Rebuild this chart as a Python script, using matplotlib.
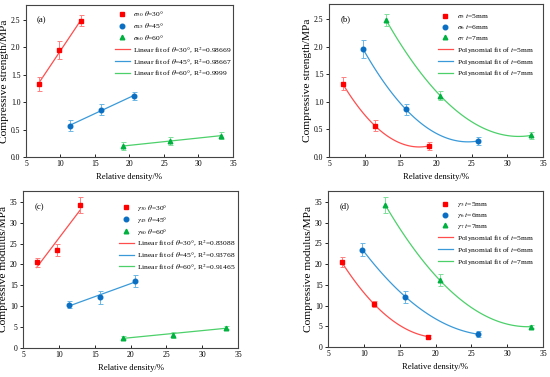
import numpy as np
import matplotlib
matplotlib.use("Agg")
import matplotlib.pyplot as plt
from matplotlib.lines import Line2D

plt.rcParams['font.family'] = ['Liberation Serif', 'DejaVu Serif']
plt.rcParams['mathtext.fontset'] = 'stix'

# Relative density (%) for each angle group (t = 5, 6, 7 mm)
rd_30 = [6.9, 9.8, 13.0]
rd_45 = [11.4, 15.8, 20.6]
rd_60 = [19.0, 25.9, 33.3]

# Compressive strength (MPa)
sig_30 = [1.33, 1.95, 2.48]
sig_45 = [0.57, 0.86, 1.11]
sig_60 = [0.20, 0.29, 0.39]
sig_err_30 = [0.12, 0.16, 0.10]
sig_err_45 = [0.10, 0.10, 0.08]
sig_err_60 = [0.08, 0.08, 0.07]

# Compressive modulus (MPa)
gam_30 = [20.5, 23.5, 34.2]
gam_45 = [10.4, 12.1, 16.1]
gam_60 = [2.5, 3.1, 4.9]
gam_err_30 = [1.1, 1.5, 1.9]
gam_err_45 = [0.8, 1.5, 1.4]
gam_err_60 = [0.3, 0.8, 0.4]

r2_sig = ['0.98669', '0.98667', '0.9999']
r2_gam = ['0.83088', '0.93768', '0.91465']

mk_colors = ['#ff0000', '#0a6fc2', '#00b140']
ln_colors = ['#ff4d4d', '#3a9ad9', '#4cd06a']
err_colors = ['#ff8080', '#6ab7e6', '#7fe09a']
markers = ['s', 'o', '^']

W, H = 550, 377
fig = plt.figure(figsize=(W / 100, H / 100), dpi=100)


def add_ax(l, r, t, b):
    return fig.add_axes([l / W, 1 - b / H, (r - l) / W, (b - t) / H])


def style(ax, ylim, yticks, ylabel, tag, tagy):
    ax.set_xlim(5, 35)
    ax.set_ylim(*ylim)
    ax.set_xticks([5, 10, 15, 20, 25, 30, 35])
    ax.set_yticks(yticks)
    ax.tick_params(axis='x', direction='in', length=2.5, width=0.6, labelsize=5.5, pad=2.5)
    ax.tick_params(axis='y', direction='out', length=2.5, width=0.6, labelsize=5.5, pad=1.5)
    for s in ax.spines.values():
        s.set_color('#444444')
        s.set_linewidth(0.8)
    ax.set_xlabel('Relative density/%', fontsize=6.2, labelpad=3)
    ax.set_ylabel(ylabel, fontsize=8.2, labelpad=1.5)
    ax.text(6.6, tagy, tag, fontsize=6.2, va='center', ha='left')


def draw_points(ax, xs, ys, es, i):
    ax.errorbar(xs, ys, yerr=es, fmt='none', ecolor=err_colors[i], elinewidth=0.7,
                capsize=1.8, capthick=0.7, zorder=2)
    ax.plot(xs, ys, linestyle='none', marker=markers[i], color=mk_colors[i],
            markersize=3.3, zorder=3)


def legend(ax, labels_m, labels_l, anchor):
    handles = []
    for i in range(3):
        handles.append(Line2D([], [], linestyle='none', marker=markers[i], color=mk_colors[i],
                              markersize=3.3))
    for i in range(3):
        handles.append(Line2D([], [], color=ln_colors[i], lw=0.9))
    ax.legend(handles, labels_m + labels_l, loc='upper right', bbox_to_anchor=anchor,
              frameon=False, fontsize=5.4, handlelength=2.0, handletextpad=0.5,
              labelspacing=0.25, borderaxespad=0.0, borderpad=0.0)


# ---------- (a) ----------
ax = add_ax(26, 233, 5, 157)
rds = [rd_30, rd_45, rd_60]
sigs = [sig_30, sig_45, sig_60]
sig_errs = [sig_err_30, sig_err_45, sig_err_60]
for i in range(3):
    p = np.polyfit(rds[i], sigs[i], 1)
    xx = np.linspace(rds[i][0], rds[i][-1], 50)
    ax.plot(xx, np.polyval(p, xx), color=ln_colors[i], lw=0.9, zorder=1)
    draw_points(ax, rds[i], sigs[i], sig_errs[i], i)
style(ax, (0, 2.77), [0, 0.5, 1.0, 1.5, 2.0, 2.5], 'Compressive strength/MPa', '(a)', 2.5)
legend(ax,
       [r'$\sigma_{30}$ $\theta$=30°', r'$\sigma_{45}$ $\theta$=45°', r'$\sigma_{60}$ $\theta$=60°'],
       [r'Linear fit of $\theta$=%s°, R$^2$=%s' % (a, r) for a, r in zip(['30', '45', '60'], r2_sig)],
       (0.995, 0.97))
ax.yaxis.set_major_formatter(matplotlib.ticker.FormatStrFormatter('%.1f'))

# ---------- (b) ----------
ax = add_ax(329, 543, 4, 157)
rd_t = [[rd_30[k], rd_45[k], rd_60[k]] for k in range(3)]
sig_t = [[sig_30[k], sig_45[k], sig_60[k]] for k in range(3)]
sig_err_t = [[sig_err_30[k], sig_err_45[k], sig_err_60[k]] for k in range(3)]
for i in range(3):
    p = np.polyfit(rd_t[i], sig_t[i], 2)
    xx = np.linspace(rd_t[i][0], rd_t[i][-1], 100)
    ax.plot(xx, np.polyval(p, xx), color=ln_colors[i], lw=0.9, zorder=1)
    draw_points(ax, rd_t[i], sig_t[i], sig_err_t[i], i)
style(ax, (0, 2.77), [0, 0.5, 1.0, 1.5, 2.0, 2.5], 'Compressive strength/MPa', '(b)', 2.5)
legend(ax,
       [r'$\sigma_5$ $t$=5mm', r'$\sigma_6$ $t$=6mm', r'$\sigma_7$ $t$=7mm'],
       [r'Polynomial fit of $t$=%smm' % s for s in ['5', '6', '7']],
       (0.955, 0.945))
ax.yaxis.set_major_formatter(matplotlib.ticker.FormatStrFormatter('%.1f'))

# ---------- (c) ----------
ax = add_ax(23, 238, 191, 348)
gams = [gam_30, gam_45, gam_60]
gam_errs = [gam_err_30, gam_err_45, gam_err_60]
for i in range(3):
    p = np.polyfit(rds[i], gams[i], 1)
    xx = np.linspace(rds[i][0], rds[i][-1], 50)
    ax.plot(xx, np.polyval(p, xx), color=ln_colors[i], lw=0.9, zorder=1)
    draw_points(ax, rds[i], gams[i], gam_errs[i], i)
style(ax, (0, 37.6), [0, 5, 10, 15, 20, 25, 30, 35], 'Compressive modulus/MPa', '(c)', 33.8)
legend(ax,
       [r'$\gamma_{30}$ $\theta$=30°', r'$\gamma_{45}$ $\theta$=45°', r'$\gamma_{60}$ $\theta$=60°'],
       [r'Linear fit of $\theta$=%s°, R$^2$=%s' % (a, r) for a, r in zip(['30', '45', '60'], r2_gam)],
       (0.99, 0.925))

# ---------- (d) ----------
ax = add_ax(328, 543, 191, 347)
gam_t = [[gam_30[k], gam_45[k], gam_60[k]] for k in range(3)]
gam_err_t = [[gam_err_30[k], gam_err_45[k], gam_err_60[k]] for k in range(3)]
for i in range(3):
    p = np.polyfit(rd_t[i], gam_t[i], 2)
    xx = np.linspace(rd_t[i][0], rd_t[i][-1], 100)
    ax.plot(xx, np.polyval(p, xx), color=ln_colors[i], lw=0.9, zorder=1)
    draw_points(ax, rd_t[i], gam_t[i], gam_err_t[i], i)
style(ax, (0, 37.6), [0, 5, 10, 15, 20, 25, 30, 35], 'Compressive modulus/MPa', '(d)', 34.0)
legend(ax,
       [r'$\gamma_5$ $t$=5mm', r'$\gamma_6$ $t$=6mm', r'$\gamma_7$ $t$=7mm'],
       [r'Polynomial fit of $t$=%smm' % s for s in ['5', '6', '7']],
       (0.955, 0.94))

fig.savefig('out.png', dpi=100)
